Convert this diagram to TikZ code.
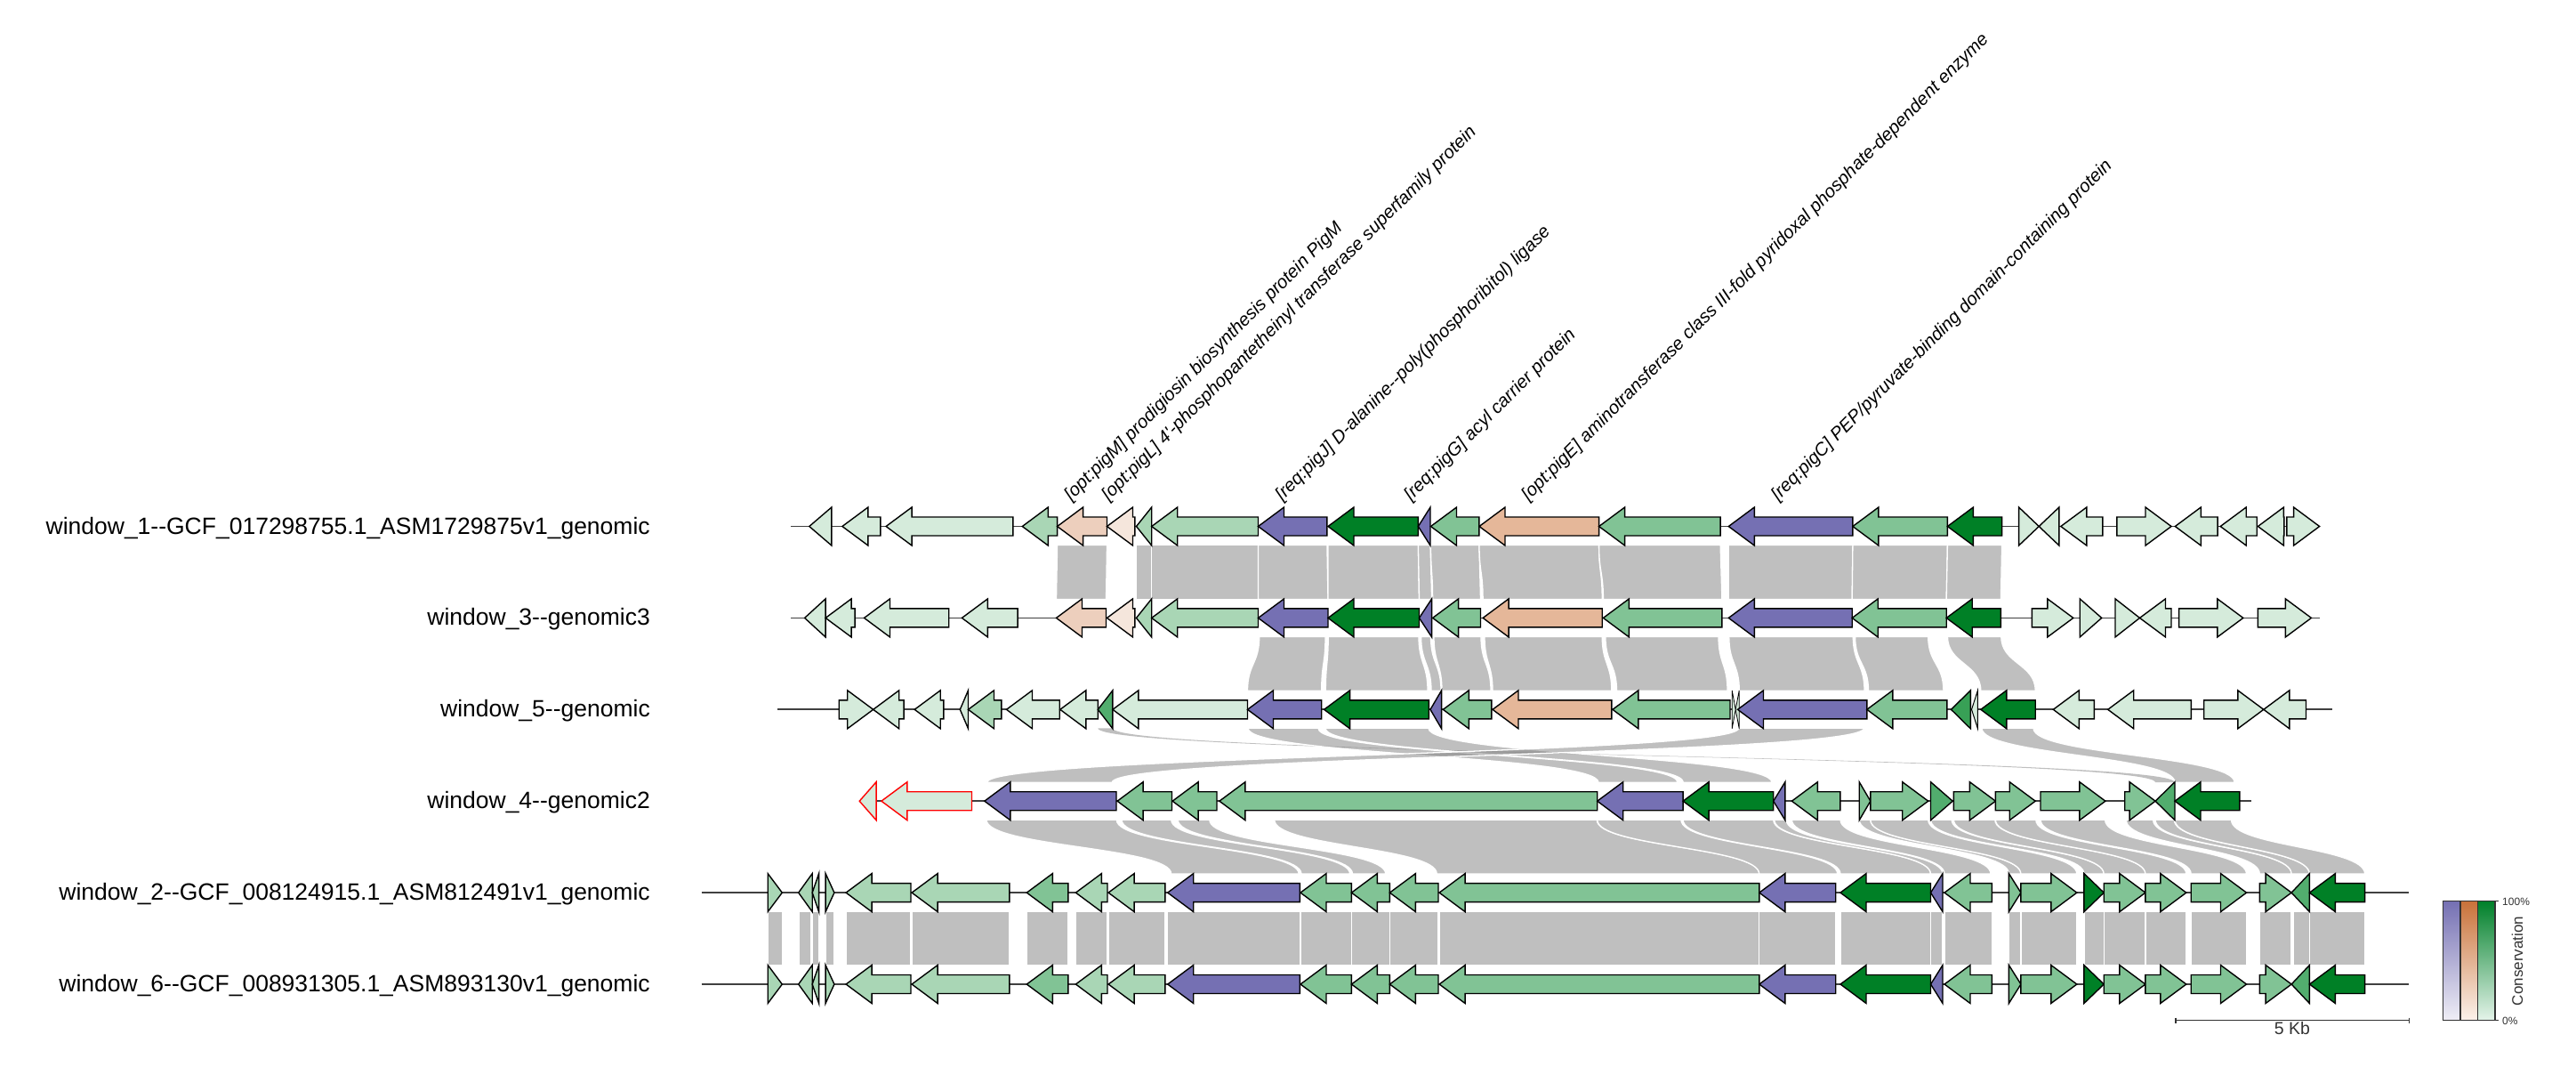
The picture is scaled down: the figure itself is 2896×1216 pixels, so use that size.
\documentclass[tikz,border=0pt]{standalone}
\usepackage{fontspec}
\setmainfont{Liberation Sans}
\newfontfamily\plainsans{Liberation Sans}
\definecolor{vlg}{HTML}{D5EBDB}
\definecolor{lmg}{HTML}{A9D6B5}
\definecolor{mg}{HTML}{81C395}
\definecolor{mdg}{HTML}{52AD6E}
\definecolor{mdgb}{HTML}{38A056}
\definecolor{dg}{HTML}{008026}
\definecolor{pur}{HTML}{7570B3}
\definecolor{orE}{HTML}{E5B799}
\definecolor{orM}{HTML}{EDCFBD}
\definecolor{orL}{HTML}{F5E6DC}
\definecolor{bbc}{HTML}{404040}
\definecolor{txt}{HTML}{333333}
\definecolor{legP}{HTML}{7570B3}
\definecolor{legPl}{HTML}{EFEEF6}
\definecolor{legO}{HTML}{C8723A}
\definecolor{legOl}{HTML}{FCF2EB}
\definecolor{legG}{HTML}{00802A}
\definecolor{legGl}{HTML}{E5F4EA}
\newcommand{\gL}[4]{\pgfmathsetmacro{\ghb}{min(#1+29,#2)}\filldraw[gene,#4] (#1,#3) -- (\ghb,#3-21.5) -- (\ghb,#3-10.5) -- (#2,#3-10.5) -- (#2,#3+10.5) -- (\ghb,#3+10.5) -- (\ghb,#3+21.5) -- cycle;}
\newcommand{\gR}[4]{\pgfmathsetmacro{\ghb}{max(#2-29,#1)}\filldraw[gene,#4] (#2,#3) -- (\ghb,#3-21.5) -- (\ghb,#3-10.5) -- (#1,#3-10.5) -- (#1,#3+10.5) -- (\ghb,#3+10.5) -- (\ghb,#3+21.5) -- cycle;}
\newcommand{\lk}[7][]{\pgfmathsetmacro{\lkm}{(#4+#7)/2}\filldraw[link,#1] (#2,#4) -- (#3,#4) .. controls (#3,\lkm) and (#6,\lkm) .. (#6,#7) -- (#5,#7) .. controls (#5,\lkm) and (#2,\lkm) .. (#2,#4) -- cycle;}
\newcommand{\dhy}{-\kern0pt-}
\def\tOne{591.5}
\def\tThree{694.4}
\def\tFive{797.3}
\def\tFour{900.2}
\def\tTwo{1003.1}
\def\tSix{1106}
\tikzset{
  gene/.style={draw=black, line width=1.4pt, line join=miter},
  link/.style={fill=black!50, fill opacity=0.5, draw=white, line width=1.3pt},
  bb/.style={draw=bbc, line width=1.8pt},
  tlabel/.style={font=\plainsans\fontsize{26.5}{30}\selectfont, anchor=base east, inner sep=0pt, text=black},
  glabel/.style={font=\plainsans\fontsize{20.4}{24}\selectfont\itshape, anchor=base west, inner sep=0pt, rotate=45, text=black},
  legbar/.style={draw=txt, line width=1.2pt},
  small/.style={font=\plainsans\fontsize{12}{14}\selectfont, text=txt, inner sep=0pt},
}
\begin{document}
\begin{tikzpicture}[x=1pt,y=-1pt]
\useasboundingbox (0,0) rectangle (2896,1216);
\fill[white] (0,0) rectangle (2896,1216);

% ---------------- links 1 -> 3
\lk{1188.6}{1244.5}{612.5}{1187.5}{1243.5}{673.4}
\lk{1277.5}{1294.7}{612.5}{1277.5}{1294.7}{673.4}
\lk{1294.7}{1414.5}{612.5}{1294.7}{1414.5}{673.4}
\lk{1414.5}{1491.9}{612.5}{1414.5}{1493}{673.4}
\lk{1493}{1594.4}{612.5}{1493}{1595.5}{673.4}
\lk{1594.4}{1608}{612.5}{1595.5}{1609.6}{673.4}
\lk{1608.5}{1662.9}{612.5}{1610.6}{1664.5}{673.4}
\lk{1663}{1797.6}{612.5}{1667.1}{1801.2}{673.4}
\lk{1797.6}{1934.1}{612.5}{1802.4}{1935.9}{673.4}
\lk{1943.3}{2082.9}{612.5}{1943.3}{2082.2}{673.4}
\lk{2082.9}{2189.4}{612.5}{2082.2}{2188.2}{673.4}
\lk{2189.4}{2250.6}{612.5}{2188.2}{2249.4}{673.4}
% ---------------- links 3 -> 5
\lk{1415.7}{1490}{715.4}{1402.5}{1485.7}{776.3}
\lk{1493.2}{1595}{715.4}{1490.3}{1605}{776.3}
\lk{1597.6}{1608.5}{715.4}{1609}{1620}{776.3}
\lk{1612}{1665}{715.4}{1621}{1676}{776.3}
\lk{1669}{1801.2}{715.4}{1678}{1811.8}{776.3}
\lk{1804.9}{1932}{715.4}{1817.5}{1942}{776.3}
\lk{1943.8}{2083.3}{715.4}{1955.3}{2096}{776.3}
\lk{2085.6}{2167.7}{715.4}{2100.5}{2184.9}{776.3}
\lk{2189.5}{2249.8}{715.4}{2226.8}{2288.2}{776.3}
% ---------------- links 5 -> 4
\lk[draw=none]{1234.3}{1250.9}{818.3}{2423.1}{2445}{879.2}
\lk{1403}{1482}{818.3}{1797}{1886}{879.2}
\lk{1490}{1606}{818.3}{1892.4}{1992}{879.2}
\lk{1954.6}{2095.5}{818.3}{1109.7}{1250.3}{879.2}
\lk{2228}{2286}{818.3}{2445}{2512}{879.2}
% ---------------- links 4 -> 2
\lk{1109}{1255.3}{921.2}{1316.7}{1460.2}{982.1}
\lk{1261}{1316.7}{921.2}{1463}{1517.6}{982.1}
\lk{1324.2}{1359.8}{921.2}{1520.5}{1557.8}{982.1}
\lk{1432.7}{1795.2}{921.2}{1615.3}{1977.8}{982.1}
\lk{1795.7}{1889.9}{921.2}{1977.8}{2065.7}{982.1}
\lk{1892.1}{1993.7}{921.2}{2069}{2170.5}{982.1}
\lk{1994.7}{2008.2}{921.2}{2170.5}{2184}{982.1}
\lk{2014.4}{2069}{921.2}{2186}{2238}{982.1}
\lk{2090.2}{2102.8}{921.2}{2258.4}{2271.9}{982.1}
\lk{2102.8}{2167.7}{921.2}{2271.9}{2334.8}{982.1}
\lk{2170.5}{2194.1}{921.2}{2342.9}{2365.2}{982.1}
\lk{2196.4}{2242.8}{921.2}{2365.2}{2411.9}{982.1}
\lk{2243.4}{2288.8}{921.2}{2411.9}{2457.8}{982.1}
\lk{2294}{2366.6}{921.2}{2463.2}{2525.5}{982.1}
\lk{2390.2}{2420.6}{921.2}{2540.3}{2576.1}{982.1}
\lk{2423.1}{2444.3}{921.2}{2576.1}{2596.4}{982.1}
\lk{2445}{2508.5}{921.2}{2596.4}{2658.6}{982.1}
% ---------------- links 2 -> 6
\foreach \a/\b in {863.2/879.3, 898.8/912, 913.2/920.6, 928.1/937.9, 951.1/1024, 1025.1/1134.8, 1154.3/1200.8, 1209.4/1245, 1246.1/1309.9, 1312.7/1461.4, 1462/1519.4, 1519.4/1562.4, 1562.4/1617, 1618.1/1977.8, 1977.8/2063.7, 2069/2170.5, 2170.5/2184, 2186/2239.4, 2258.4/2271.9, 2271.9/2334.8, 2342.9/2365.2, 2365.2/2411.9, 2411.9/2457.8, 2463.2/2525.5, 2540.3/2576.1, 2578/2596.4, 2596.4/2658.6}
  {\lk{\a}{\b}{1024.1}{\a}{\b}{1085}}

% ---------------- backbones
\coordinate (b1s) at (889.4,\tOne);  \coordinate (b1e) at (2607.6,\tOne);
\coordinate (b3s) at (889.4,\tThree); \coordinate (b3e) at (2607.6,\tThree);
\coordinate (b5s) at (874.4,\tFive);  \coordinate (b5e) at (2622.3,\tFive);
\coordinate (b4s) at (966.2,\tFour);  \coordinate (b4e) at (2531,\tFour);
\coordinate (b2s) at (788.6,\tTwo);   \coordinate (b2e) at (2708,\tTwo);
\coordinate (b6s) at (788.6,\tSix);   \coordinate (b6e) at (2708,\tSix);
\draw[bb] (b1s) -- (b1e);
\draw[bb] (b3s) -- (b3e);
\draw[bb] (b5s) -- (b5e);
\draw[bb] (b4s) -- (b4e);
\draw[bb] (b2s) -- (b2e);
\draw[bb] (b6s) -- (b6e);

% ---------------- track 1
\gL{909.8}{934.9}{\tOne}{fill=vlg}
\gL{946.9}{989.8}{\tOne}{fill=vlg}
\gL{996.1}{1138.9}{\tOne}{fill=vlg}
\gL{1149.3}{1188.6}{\tOne}{fill=lmg}
\gL{1188.6}{1244.5}{\tOne}{fill=orM}
\gL{1244.5}{1275.9}{\tOne}{fill=orL}
\gL{1277.5}{1294.7}{\tOne}{fill=lmg}
\gL{1294.7}{1414.5}{\tOne}{fill=lmg}
\gL{1414.5}{1491.9}{\tOne}{fill=pur}
\gL{1493}{1594.4}{\tOne}{fill=dg}
\gL{1594.4}{1608}{\tOne}{fill=pur}
\gL{1608.5}{1662.9}{\tOne}{fill=mg}
\gL{1663}{1797.6}{\tOne}{fill=orE}
\gL{1797.6}{1934.1}{\tOne}{fill=mg}
\gL{1943.3}{2082.9}{\tOne}{fill=pur}
\gL{2082.9}{2189.4}{\tOne}{fill=mg}
\gL{2189.4}{2250.6}{\tOne}{fill=dg}
\gR{2269.6}{2292.2}{\tOne}{fill=vlg}
\gL{2292.2}{2314.9}{\tOne}{fill=vlg}
\gL{2316.8}{2363.9}{\tOne}{fill=vlg}
\gR{2379.8}{2441}{\tOne}{fill=vlg}
\gL{2445.3}{2493.1}{\tOne}{fill=vlg}
\gL{2496.2}{2537.2}{\tOne}{fill=vlg}
\gL{2538.4}{2567.8}{\tOne}{fill=vlg}
\gR{2570.8}{2607.6}{\tOne}{fill=vlg}

% ---------------- track 3
\gL{904.6}{928.1}{\tThree}{fill=vlg}
\gL{928.1}{961.1}{\tThree}{fill=vlg}
\gL{971.5}{1066.7}{\tThree}{fill=vlg}
\gL{1081.4}{1144.1}{\tThree}{fill=vlg}
\gL{1187.5}{1243.5}{\tThree}{fill=orM}
\gL{1244.5}{1275.9}{\tThree}{fill=orL}
\gL{1277.5}{1294.7}{\tThree}{fill=lmg}
\gL{1294.7}{1414.5}{\tThree}{fill=lmg}
\gL{1414.5}{1493}{\tThree}{fill=pur}
\gL{1493}{1595.5}{\tThree}{fill=dg}
\gL{1595.5}{1609.6}{\tThree}{fill=pur}
\gL{1610.6}{1664.5}{\tThree}{fill=mg}
\gL{1667.1}{1801.2}{\tThree}{fill=orE}
\gL{1802.4}{1935.9}{\tThree}{fill=mg}
\gL{1943.3}{2082.2}{\tThree}{fill=pur}
\gL{2082.2}{2188.2}{\tThree}{fill=mg}
\gL{2188.2}{2249.4}{\tThree}{fill=dg}
\gR{2284.3}{2330.8}{\tThree}{fill=vlg}
\gR{2338.2}{2362.7}{\tThree}{fill=vlg}
\gR{2378}{2405.5}{\tThree}{fill=vlg}
\gL{2405.5}{2441}{\tThree}{fill=vlg}
\gR{2449.6}{2521.8}{\tThree}{fill=vlg}
\gR{2538.4}{2598.4}{\tThree}{fill=vlg}

% ---------------- track 5
\gR{943.2}{981.7}{\tFive}{fill=vlg}
\gL{981.7}{1016.1}{\tFive}{fill=vlg}
\gL{1028.2}{1060.9}{\tFive}{fill=vlg}
\gL{1079.3}{1088.5}{\tFive}{fill=vlg}
\gL{1088.5}{1125.8}{\tFive}{fill=lmg}
\gL{1131.5}{1191.2}{\tFive}{fill=vlg}
\gL{1191.8}{1234.3}{\tFive}{fill=vlg}
\gL{1234.3}{1250.9}{\tFive}{fill=mdg}
\gL{1250.9}{1402.5}{\tFive}{fill=vlg}
\gL{1402.5}{1485.7}{\tFive}{fill=pur}
\gL{1488.6}{1606.3}{\tFive}{fill=dg}
\gL{1608}{1620.6}{\tFive}{fill=pur}
\gL{1622.3}{1676.9}{\tFive}{fill=mg}
\gL{1678}{1811.8}{\tFive}{fill=orE}
\gL{1812.9}{1945}{\tFive}{fill=mg}
\gR{1947.2}{1951.2}{\tFive}{fill=vlg,line width=0.8pt}
\gL{1951.2}{1955.2}{\tFive}{fill=vlg,line width=0.8pt}
\gL{1953.5}{2098.8}{\tFive}{fill=pur}
\gL{2098.8}{2188.9}{\tFive}{fill=mg}
\gL{2193.5}{2215.3}{\tFive}{fill=mdgb}
\gL{2216.5}{2223.4}{\tFive}{fill=vlg,line width=1pt}
\gL{2226.8}{2288.2}{\tFive}{fill=dg}
\gL{2308.3}{2354.3}{\tFive}{fill=vlg}
\gL{2369.7}{2463.3}{\tFive}{fill=vlg}
\gR{2477.7}{2544.8}{\tFive}{fill=vlg}
\gL{2544.8}{2592.5}{\tFive}{fill=vlg}

% ---------------- track 4
\gL{966.2}{985.1}{\tFour}{fill=vlg,draw=red}
\gL{990.9}{1092.5}{\tFour}{fill=vlg,draw=red}
\gL{1106.8}{1255}{\tFour}{fill=pur}
\gL{1256.1}{1317.5}{\tFour}{fill=mg}
\gL{1318.1}{1368}{\tFour}{fill=mg}
\gL{1370.9}{1795.7}{\tFour}{fill=mg}
\gL{1795.7}{1892.1}{\tFour}{fill=pur}
\gL{1892.1}{1993.7}{\tFour}{fill=dg}
\gL{1993.7}{2006.9}{\tFour}{fill=pur}
\gL{2014.4}{2068.9}{\tFour}{fill=mg}
\gR{2090.2}{2102.8}{\tFour}{fill=mg}
\gR{2102.8}{2167.7}{\tFour}{fill=mg}
\gR{2170.5}{2195.2}{\tFour}{fill=mdg}
\gR{2196.4}{2243.4}{\tFour}{fill=mg}
\gR{2243.4}{2288.2}{\tFour}{fill=mg}
\gR{2294}{2366.9}{\tFour}{fill=mg}
\gR{2388.7}{2423.1}{\tFour}{fill=mg}
\gL{2423.1}{2445}{\tFour}{fill=mdg}
\gL{2445}{2517.8}{\tFour}{fill=dg}

% ---------------- tracks 2 and 6 (identical)
\foreach \ty in {\tTwo,\tSix}{
\gR{863.2}{879.3}{\ty}{fill=lmg}
\gL{897.7}{913.2}{\ty}{fill=lmg}
\gL{913.2}{920.6}{\ty}{fill=lmg}
\gR{928.1}{937.9}{\ty}{fill=lmg}
\gL{951.1}{1024}{\ty}{fill=lmg}
\gL{1025.1}{1134.8}{\ty}{fill=lmg}
\gL{1154.3}{1200.8}{\ty}{fill=mg}
\gL{1209.4}{1245}{\ty}{fill=lmg}
\gL{1246.1}{1309.9}{\ty}{fill=lmg}
\gL{1312.7}{1461.4}{\ty}{fill=pur}
\gL{1462}{1519.4}{\ty}{fill=mg}
\gL{1519.4}{1562.4}{\ty}{fill=mg}
\gL{1562.4}{1617}{\ty}{fill=mg}
\gL{1618.1}{1977.8}{\ty}{fill=mg}
\gL{1977.8}{2063.7}{\ty}{fill=pur}
\gL{2069}{2170.5}{\ty}{fill=dg}
\gL{2170.5}{2184}{\ty}{fill=pur}
\gL{2186}{2239.4}{\ty}{fill=mg}
\gR{2258.4}{2271.9}{\ty}{fill=mg}
\gR{2271.9}{2334.8}{\ty}{fill=mg}
\gR{2342.9}{2365.2}{\ty}{fill=dg}
\gR{2365.2}{2411.9}{\ty}{fill=mg}
\gR{2411.9}{2457.8}{\ty}{fill=mg}
\gR{2463.2}{2525.5}{\ty}{fill=mg}
\gR{2540.3}{2576.1}{\ty}{fill=mg}
\gL{2576.1}{2596.4}{\ty}{fill=mdg}
\gL{2596.4}{2658.6}{\ty}{fill=dg}
}

% ---------------- track labels
\node[tlabel] (lab1) at (731,600) {window\_1\dhy GCF\_017298755.1\_ASM1729875v1\_genomic};
\node[tlabel] (lab3) at (731,702.9) {window\_3\dhy genomic3};
\node[tlabel] (lab5) at (731,805.8) {window\_5\dhy genomic};
\node[tlabel] (lab4) at (731,908.7) {window\_4\dhy genomic2};
\node[tlabel] (lab2) at (731,1011.6) {window\_2\dhy GCF\_008124915.1\_ASM812491v1\_genomic};
\node[tlabel] (lab6) at (731,1114.5) {window\_6\dhy GCF\_008931305.1\_ASM893130v1\_genomic};

% ---------------- gene labels
\node[glabel] (gM) at (1204.2,563.5) {[opt:pigM] prodigiosin biosynthesis protein PigM};
\node[glabel] (gLl) at (1246.1,563.5) {[opt:pigL] 4'-phosphopantetheinyl transferase superfamily protein};
\node[glabel] (gJ) at (1441.4,563.5) {[req:pigJ] D-alanine\dhy poly(phosphoribitol) ligase};
\node[glabel] (gG) at (1586.1,563.5) {[req:pigG] acyl carrier protein};
\node[glabel] (gE) at (1718.2,563.5) {[opt:pigE] aminotransferase class III-fold pyridoxal phosphate-dependent enzyme};
\node[glabel] (gC) at (1999,563.5) {[req:pigC] PEP/pyruvate-binding domain-containing protein};

% ---------------- scale bar
\coordinate (sbl) at (2446,1146.7);
\coordinate (sbr) at (2708.7,1146.7);
\draw[draw=txt, line width=1.3pt] (sbl) -- (sbr);
\draw[draw=txt, line width=1.3pt] ([yshift=3pt]sbl) -- ([yshift=-3pt]sbl);
\draw[draw=txt, line width=1.3pt] ([yshift=3pt]sbr) -- ([yshift=-3pt]sbr);
\node[font=\plainsans\fontsize{19.5}{22}\selectfont, text=txt, inner sep=0pt, anchor=north] (sbt) at (2577,1148.5) {5 Kb};

% ---------------- legend
\shade[top color=legP, bottom color=legPl] (2746.7,1012.7) rectangle (2766,1146.7);
\shade[top color=legO, bottom color=legOl] (2766,1012.7) rectangle (2785.7,1146.7);
\shade[top color=legG, bottom color=legGl] (2785.7,1012.7) rectangle (2805,1146.7);
\draw[legbar] (2746.7,1012.7) rectangle (2766,1146.7);
\draw[legbar] (2766,1012.7) rectangle (2785.7,1146.7);
\draw[legbar] (2785.7,1012.7) rectangle (2805,1146.7);
\draw[draw=txt, line width=1.2pt] (2805,1012.7) -- (2809,1012.7);
\draw[draw=txt, line width=1.2pt] (2805,1146.7) -- (2809,1146.7);
\node[small, anchor=west] (l100) at (2813,1013) {100\%};
\node[small, anchor=west] (l0) at (2813,1147) {0\%};
\node[font=\plainsans\fontsize{17}{20}\selectfont, text=txt, inner sep=0pt, rotate=90] (lcons) at (2830,1080) {Conservation};
\end{tikzpicture}
\end{document}
